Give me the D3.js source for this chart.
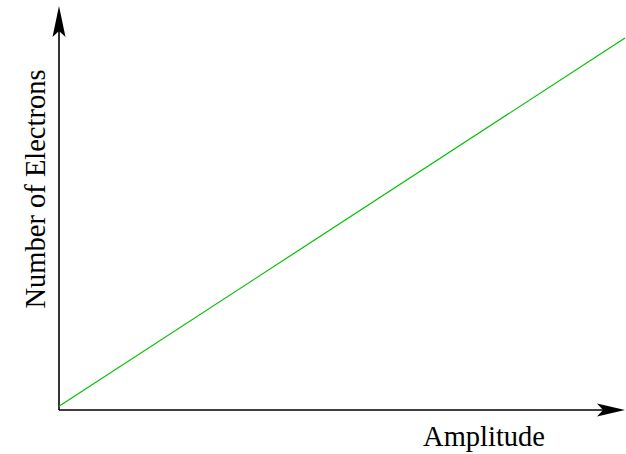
<!DOCTYPE html>
<html><head><meta charset="utf-8">
<script src="https://cdn.jsdelivr.net/npm/d3@7"></script>
<style>html,body{margin:0;padding:0;background:#fff;}</style>
</head><body>
<script>
const amplitude = [0, 10];
const electrons = [0.1, 10];
const xLabel = "Amplitude";
const yLabel = "Number of Electrons";

const W = 626, H = 454;
const svg = d3.select("body").append("svg").attr("width", W).attr("height", H);
const x = d3.scaleLinear().domain([0, 10]).range([59, 625]);
const y = d3.scaleLinear().domain([0, 10]).range([410, 38]);

// axes
const ox = x(0), oy = y(0);
svg.append("line").attr("x1", ox).attr("y1", oy).attr("x2", 605).attr("y2", oy)
  .attr("stroke", "#000").attr("stroke-width", 1.6);
svg.append("line").attr("x1", ox).attr("y1", oy).attr("x2", ox).attr("y2", 28)
  .attr("stroke", "#000").attr("stroke-width", 1.6);
// arrowheads
svg.append("path").attr("d", `M625,${oy} L597,${oy-6.5} L603,${oy} L597,${oy+6.5} Z`).attr("fill", "#000");
svg.append("path").attr("d", `M${ox},6 L${ox-6.5},37 L${ox},31 L${ox+6.5},37 Z`).attr("fill", "#000");

// data line
const pts = amplitude.map((a, i) => [a, electrons[i]]);
svg.append("path").datum(pts)
  .attr("d", d3.line().x(d => x(d[0])).y(d => y(d[1])))
  .attr("fill", "none").attr("stroke", "#00c000").attr("stroke-width", 1.2);

// labels
svg.append("text").attr("x", 484).attr("y", 446).attr("text-anchor", "middle")
  .attr("font-family", "Liberation Serif, Times New Roman, serif").attr("font-size", 28.5)
  .text(xLabel);
svg.append("text").attr("transform", "translate(45,189) rotate(-90)").attr("text-anchor", "middle")
  .attr("font-family", "Liberation Serif, Times New Roman, serif").attr("font-size", 28.5)
  .text(yLabel);
</script>
</body></html>
